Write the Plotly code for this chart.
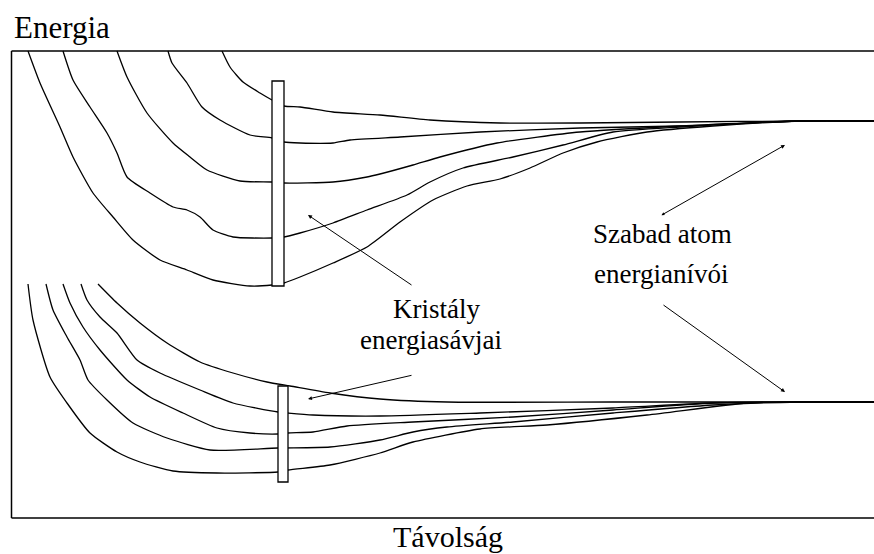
import plotly.graph_objects as go

# ---- data (pixel-like coordinates: x to the right, y downward) ----
upper_x = [
    [222, 230, 243, 260, 272, 284, 300, 333, 380, 430, 500, 580, 680, 800, 874],
    [168, 172, 187, 202, 220, 250, 272, 284, 300, 333, 350, 400, 480, 580, 680, 800, 874],
    [117, 127, 147, 173, 190, 207, 240, 272, 284, 333, 367, 380, 413, 440, 497, 580, 680, 800, 874],
    [63, 73, 90, 107, 117, 127, 150, 173, 187, 200, 213, 233, 272, 284, 300, 333, 367, 407, 430, 463, 513, 563, 613, 680, 800, 874],
    [28, 40, 60, 73, 93, 113, 133, 160, 187, 213, 250, 272, 284, 300, 333, 367, 400, 433, 467, 500, 530, 563, 597, 647, 713, 800, 874],
]
upper_y = [
    [51, 67, 82, 93, 100, 106, 107, 112, 115, 120, 123, 123, 122, 121, 121],
    [51, 63, 83, 107, 120, 135, 138, 142, 143, 143, 140, 137, 132, 128, 126, 121, 121],
    [51, 77, 113, 143, 157, 170, 181, 182, 183, 182, 177, 174, 165, 157, 143, 132, 126, 121, 121],
    [51, 80, 107, 133, 153, 177, 193, 207, 210, 217, 230, 237, 238, 237, 233, 223, 210, 195, 182, 168, 157, 145, 132, 127, 121, 121],
    [51, 83, 127, 157, 193, 217, 240, 260, 270, 280, 286, 285, 283, 277, 263, 247, 222, 200, 186, 179, 168, 153, 142, 132, 126, 121, 121],
]
lower_x = [
    [98, 117, 140, 167, 200, 233, 267, 290, 330, 380, 447, 613, 874],
    [81, 87, 100, 117, 137, 160, 200, 233, 278, 288, 313, 380, 480, 613, 713, 800, 874],
    [63, 70, 83, 100, 127, 150, 183, 217, 250, 278, 288, 313, 347, 413, 513, 613, 713, 800, 874],
    [46, 53, 67, 80, 88, 107, 133, 167, 210, 278, 330, 380, 413, 447, 513, 613, 713, 800, 874],
    [28, 33, 50, 67, 90, 117, 140, 173, 217, 278, 288, 330, 380, 413, 480, 547, 647, 747, 800, 874],
]
lower_y = [
    [284, 303, 323, 343, 362, 373, 382, 386, 393, 399, 402, 402, 402],
    [284, 300, 317, 333, 360, 373, 390, 403, 412, 413, 415, 416, 413, 408, 403, 402, 402],
    [284, 303, 327, 350, 380, 397, 413, 428, 433, 434, 433, 432, 426, 422, 417, 410, 403, 402, 402],
    [284, 310, 337, 360, 380, 400, 423, 438, 450, 448, 447, 440, 432, 427, 422, 413, 405, 402, 402],
    [284, 320, 377, 403, 433, 452, 462, 471, 473, 472, 470, 465, 453, 442, 429, 425, 415, 403, 402, 402],
]

# crystal band bars: x0, x1, y0, y1
bar_x0 = [272, 278]
bar_x1 = [284, 288]
bar_y0 = [81, 386]
bar_y1 = [286, 482]

# arrows: (tail x, tail y) -> (head x, head y)
arrow_tail_x = [413, 413, 662]
arrow_tail_y = [286, 375, 304]
arrow_head_x = [308, 308, 785]
arrow_head_y = [215, 399, 392]
double_tail = [660, 216]
double_head = [785, 145]

labels = ["Energia", "Távolság", "Kristály", "energiasávjai", "Szabad atom", "energianívói"]

FONT = "Liberation Serif"

fig = go.Figure()
for xs, ys in zip(upper_x + lower_x, upper_y + lower_y):
    fig.add_trace(go.Scatter(x=xs, y=ys, mode="lines",
                             line=dict(color="black", width=1.3, shape="spline", smoothing=0.6),
                             hoverinfo="skip", showlegend=False))

# frame (left, top, bottom)
frame = dict(color="black", width=1.5)
fig.add_shape(type="line", x0=11.5, x1=11.5, y0=51, y1=518, line=frame, xref="x", yref="y")
fig.add_shape(type="line", x0=11.5, x1=874, y0=51, y1=51, line=frame, xref="x", yref="y")
fig.add_shape(type="line", x0=11.5, x1=874, y0=518, y1=518, line=frame, xref="x", yref="y")

for x0, x1, y0, y1 in zip(bar_x0, bar_x1, bar_y0, bar_y1):
    fig.add_shape(type="rect", x0=x0, x1=x1, y0=y0, y1=y1, xref="x", yref="y",
                  line=dict(color="black", width=1.3), fillcolor="white", layer="above")

for tx, ty, hx, hy in zip(arrow_tail_x, arrow_tail_y, arrow_head_x, arrow_head_y):
    fig.add_annotation(x=hx, y=hy, ax=tx, ay=ty, xref="x", yref="y", axref="x", ayref="y",
                       text="", showarrow=True, arrowhead=2, arrowsize=0.8, arrowwidth=1,
                       arrowcolor="black")
fig.add_annotation(x=double_head[0], y=double_head[1], ax=double_tail[0], ay=double_tail[1],
                   xref="x", yref="y", axref="x", ayref="y", text="", showarrow=True,
                   arrowhead=2, startarrowhead=2, arrowside="end+start", arrowsize=0.8,
                   startarrowsize=0.6, arrowwidth=1, arrowcolor="black")

big = dict(family=FONT, size=31, color="black")
bottom_font = dict(family=FONT, size=30, color="black")
small = dict(family=FONT, size=27, color="black")
fig.add_annotation(x=12, y=27, text=labels[0], showarrow=False, xanchor="left", yanchor="middle",
                   xref="x", yref="y", font=big)
fig.add_annotation(x=448, y=536.5, text=labels[1], showarrow=False, xanchor="center", yanchor="middle",
                   xref="x", yref="y", font=bottom_font, borderpad=0)
fig.add_annotation(x=436, y=309, text=labels[2], showarrow=False, xanchor="center", yanchor="middle",
                   xref="x", yref="y", font=small)
fig.add_annotation(x=431, y=340, text=labels[3], showarrow=False, xanchor="center", yanchor="middle",
                   xref="x", yref="y", font=small)
fig.add_annotation(x=662, y=234, text=labels[4], showarrow=False, xanchor="center", yanchor="middle",
                   xref="x", yref="y", font=small)
fig.add_annotation(x=661, y=274, text=labels[5], showarrow=False, xanchor="center", yanchor="middle",
                   xref="x", yref="y", font=small)

fig.update_layout(
    width=874, height=554, margin=dict(l=0, r=0, t=0, b=0),
    paper_bgcolor="white", plot_bgcolor="white",
    font=dict(family=FONT),
    xaxis=dict(range=[0, 874], visible=False, fixedrange=True),
    yaxis=dict(range=[554, 0], visible=False, fixedrange=True),
)
fig.write_html("out.html", config={"displayModeBar": False},
               post_script="document.body.style.margin='0';document.body.style.overflow='hidden';")
